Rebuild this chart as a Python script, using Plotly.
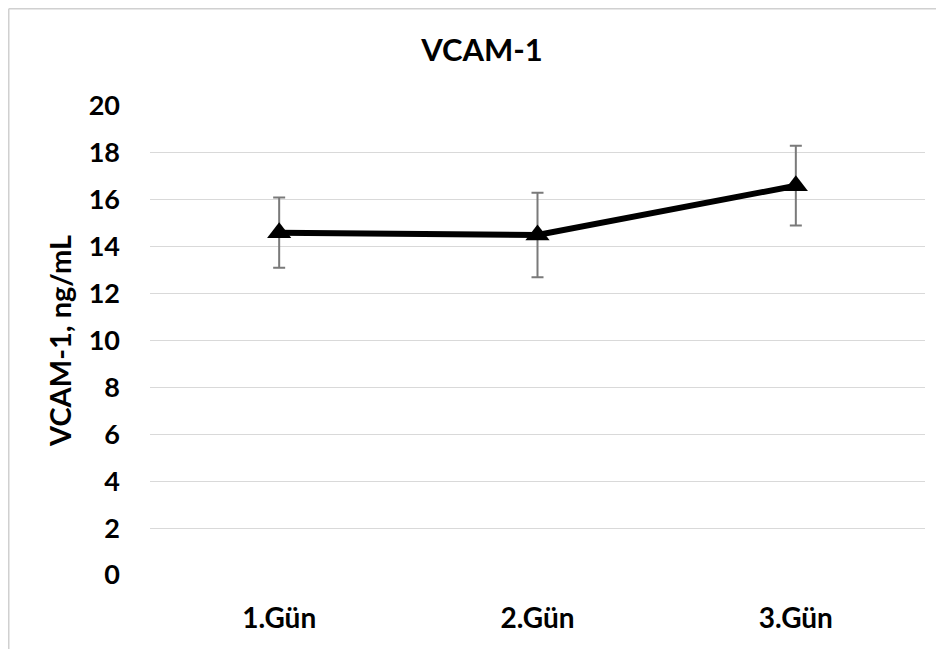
import plotly.graph_objects as go

categories = ["1.Gün", "2.Gün", "3.Gün"]
values = [14.6, 14.5, 16.6]
err_plus = [1.5, 1.8, 1.7]
err_minus = [1.5, 1.8, 1.7]
y_ticks = [0, 2, 4, 6, 8, 10, 12, 14, 16, 18, 20]

# page body has an 8px default margin, so the figure is drawn 8px smaller
W, H = 936, 641
L, R, T, B = 142, 19, 98, 74
pw = W - L - R
ph = H - T - B

def px(x):
    return (x - L) / pw

def py(y):
    return (H - B - y) / ph

fig = go.Figure()
fig.add_trace(go.Scatter(
    x=categories, y=values,
    mode="lines+markers",
    line=dict(color="black", width=6),
    marker=dict(symbol="triangle-up", size=21, color="black"),
    error_y=dict(type="data", array=err_plus, arrayminus=err_minus,
                 color="#7a7a7a", thickness=2, width=6),
    showlegend=False,
))

font_family = "Lato, 'Open Sans', sans-serif"

fig.update_layout(
    width=W, height=H,
    margin=dict(l=L, r=R, t=T, b=B),
    paper_bgcolor="white", plot_bgcolor="white",
    title=dict(text="<b>VCAM-1</b>", x=px(474), xref="paper", xanchor="center",
               y=1 - 42 / H, yanchor="middle",
               font=dict(family=font_family, size=31, color="black")),
    xaxis=dict(range=[-0.5, 2.5], showgrid=False, zeroline=False, showline=False,
               ticks="", tickfont=dict(family=font_family, size=28, color="black"),
               ticklabelstandoff=24),
    yaxis=dict(range=[0, 20], tickvals=y_ticks, ticktext=[f"<b>{v}</b>" for v in y_ticks],
               showgrid=True, gridcolor="#d9d9d9", gridwidth=1, zeroline=False,
               showline=False, ticks="", ticklabelstandoff=29,
               tickfont=dict(family=font_family, size=27, color="black"),
               title=dict(text="<b>VCAM-1, ng/mL</b>", standoff=8,
                          font=dict(family=font_family, size=29, color="black"))),
    shapes=[
        dict(type="line", xref="paper", yref="paper", x0=px(0.75), x1=px(0.75), y0=py(0.75), y1=py(H),
             line=dict(color="#d0d0d0", width=1.5)),
        dict(type="line", xref="paper", yref="paper", x0=px(0.75), x1=px(W), y0=py(0.75), y1=py(0.75),
             line=dict(color="#d0d0d0", width=1.5)),
    ],
)
fig.update_xaxes(tickvals=categories, ticktext=[f"<b>{c}</b>" for c in categories])

fig.write_html("out.html")
